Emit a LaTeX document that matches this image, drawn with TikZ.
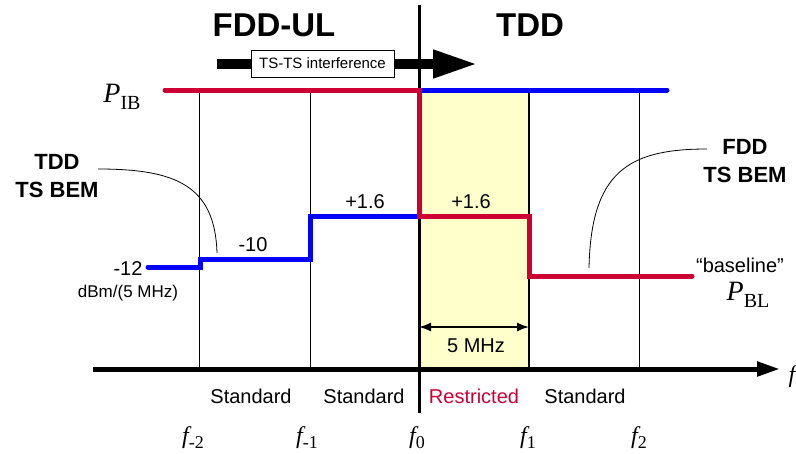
\documentclass[tikz,border=0pt]{standalone}
\usepackage{fontspec}
\setmainfont{Liberation Sans}
\newfontfamily\tnr{Liberation Serif}
\usetikzlibrary{arrows.meta,positioning}
\definecolor{Ink}{HTML}{000000}
\definecolor{StepRed}{HTML}{CC0033}
\definecolor{StepBlue}{HTML}{0000FF}
\definecolor{BandFill}{HTML}{FFFFCC}
\newcommand{\fsz}[1]{\fontsize{#1}{#1}\selectfont}
\newcommand{\flab}[1]{{\tnr\fsz{24}\itshape f}\raisebox{-5pt}{\tnr\fsz{18}#1}}
\newcommand{\plab}[1]{{\tnr\fsz{28}\itshape P}\raisebox{-7pt}{\tnr\fsz{20}#1}}
\tikzset{
  lbl/.style={font=\fsz{20},inner sep=0pt},
  bemlbl/.style={font=\bfseries\fontsize{22}{28}\selectfont,align=center,inner sep=0pt},
  titlelbl/.style={font=\bfseries\fsz{33},inner sep=0pt},
  gridline/.style={draw=Ink,line width=1pt},
  edgeline/.style={draw=Ink,line width=2pt},
  zeroline/.style={draw=Ink,line width=3pt},
  stepblue/.style={draw=StepBlue,line width=5pt,line cap=round,line join=miter},
  stepred/.style={draw=StepRed,line width=5pt,line cap=round,line join=miter},
  freqaxis/.style={draw=Ink,line width=5pt,-{Triangle[length=23pt,width=14pt]}},
  spanarrow/.style={draw=Ink,line width=1.6pt,{Latex[length=12pt,width=9pt]}-{Latex[length=12pt,width=9pt]}},
  flow/.style={draw=Ink,line width=10pt,-{Triangle[length=45pt,width=26pt]}},
  tagbox/.style={draw=Ink,fill=white,line width=1pt,font=\fsz{15},inner sep=0pt,minimum width=143pt,minimum height=27pt},
  bemcurve/.style={draw=Ink,line width=.8pt}
}

\begin{document}
\begin{tikzpicture}[x=1pt,y=-1pt]
  \useasboundingbox (0,0) rectangle (796,453);
  % restricted band and grid
  \fill[BandFill] (419,90) rectangle (529,369);
  \foreach \x in {199,310,639}
    \draw[gridline] (\x,90) -- (\x,369);
  \coordinate (bandtop) at (529,90);
  \coordinate (bandbot) at (529,369);
  \draw[edgeline] (bandtop) -- (bandbot);
  \coordinate (axstart) at (93,369);
  \coordinate (axend) at (780,369);
  \draw[freqaxis] (axstart) -- (axend);
  \coordinate (zerotop) at (419,5);
  \coordinate (zerobot) at (419,413);
  \draw[zeroline] (zerotop) -- (zerobot);

  % masks
  \draw[stepblue] (419,90) -- (667,90);
  \draw[stepblue] (148,267) -- (200,267) -- (200,259) -- (310,259) -- (310,216) -- (419,216);
  \draw[stepred] (165,90) -- (419,90) -- (419,216) -- (529,216) -- (529,276) -- (692,276);

  % interference arrow
  \coordinate (ifstart) at (217,64);
  \coordinate (ifend) at (478,64);
  \draw[flow] (ifstart) -- (ifend);
  \node[tagbox] (tsts) at (322.5,63.5) {TS-TS interference};

  \node[titlelbl] (fddul) at (274,25) {FDD-UL};
  \node[titlelbl] (tddttl) at (530,25) {TDD};

  % levels
  \node[lbl] (m12) at (128,269) {-12};
  \node[lbl,font=\fsz{17},below=9pt of m12] (unit) {dBm/(5 MHz)};
  \node[lbl] (m10) at (253,245) {-10};
  \node[lbl] (p16l) at (365,202) {+1.6};
  \node[lbl] (p16r) at (471,202) {+1.6};
  \node[inner sep=0pt] (pib) at (122,97) {\plab{IB}};
  \node[lbl] (baseline) at (740,265) {``baseline''};
  \node[inner sep=0pt] (pbl) at (748,295) {\plab{BL}};

  % BEM callouts
  \node[bemlbl] (tddbem) at (57,176) {TDD\\TS BEM};
  \coordinate (tddtail) at (98,169);
  \coordinate (tddfoot) at (217,253);
  \draw[bemcurve] (tddtail) .. controls (175,169) and (215,185) .. (tddfoot);
  \node[bemlbl] (fddbem) at (745,161) {FDD\\TS BEM};
  \coordinate (fddtail) at (707,149);
  \coordinate (fddfoot) at (589,268);
  \draw[bemcurve] (fddtail) .. controls (628,149) and (591,172) .. (fddfoot);

  % bandwidth
  \coordinate (spanl) at (419,327);
  \coordinate (spanr) at (529,327);
  \draw[spanarrow] (spanl) -- (spanr);
  \node[lbl] (fivemhz) at (476,346) {5 MHz};

  % channel labels
  \node[lbl] (std1) at (251,396) {Standard};
  \node[lbl] (std2) at (364,396) {Standard};
  \node[lbl,text=StepRed] (restr) at (474,396) {Restricted};
  \node[lbl] (std3) at (585,396) {Standard};

  \node[inner sep=0pt] (fm2) at (193,438) {\flab{-2}};
  \node[inner sep=0pt] (fm1) at (307,438) {\flab{-1}};
  \node[inner sep=0pt] (fz) at (417,438) {\flab{0}};
  \node[inner sep=0pt] (fone) at (528,438) {\flab{1}};
  \node[inner sep=0pt] (ftwo) at (639,438) {\flab{2}};
  \node[inner sep=0pt] (faxis) at (792,377) {\tnr\fsz{24}\itshape f};
\end{tikzpicture}
\end{document}
